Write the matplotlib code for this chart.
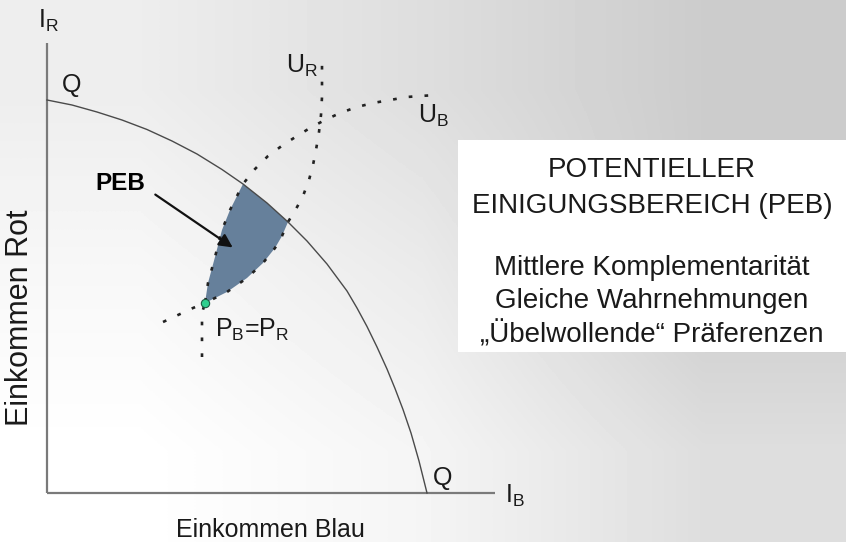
import matplotlib
matplotlib.use("Agg")
import matplotlib.pyplot as plt
from matplotlib.patches import Rectangle, Polygon
import numpy as np

plt.rcParams['font.family'] = ['Liberation Sans', 'DejaVu Sans']
plt.rcParams['mathtext.fontset'] = 'custom'
plt.rcParams['mathtext.rm'] = 'Liberation Sans'

# Einkommen Blau (x) / Einkommen Rot (y)
frontier_x = [0, 25, 50, 75, 100, 125, 150, 175, 196, 220, 241, 260, 280, 300, 310, 320,
              330, 340, 348, 356, 364, 372, 380]
frontier_y = [393, 388, 381, 373, 363.5, 352, 339, 323.5, 309, 290, 271, 252, 229, 202, 185, 166.5,
              146, 124, 104.5, 83.5, 60, 32, 0]

# U_B indifference curve, left to right (P at index 3, frontier at index 8)
ub_x = [116, 131, 146, 158, 161, 168, 175, 183, 196, 208, 221, 236, 250, 263, 276, 293, 310, 326, 343, 360, 373, 390]
ub_y = [171, 178, 185, 190, 210, 236, 263, 283, 309, 324, 337, 348, 357, 365, 372, 380, 386, 390, 393, 396, 397, 398]

# U_R indifference curve, bottom to top (P at index 3, frontier at index 9)
ur_x = [155, 155, 155, 158, 180, 200, 216, 228, 235, 241, 249, 256, 262, 266, 269, 272, 274, 275, 275, 275]
ur_y = [136, 161, 180, 190, 201, 215, 230, 245, 257, 271, 284, 297, 313, 328, 343, 361, 378, 396, 416, 435]

p_point = (158, 190)
ub_p, ub_q = 3, 8
ur_p, ur_q = 3, 9
fr_a, fr_b = 8, 10

box_lines = ["POTENTIELLER", "EINIGUNGSBEREICH (PEB)", "Mittlere Komplementarität",
             "Gleiche Wahrnehmungen", "\u201e\u00dcbelwollende\u201c Präferenzen"]
box_baselines = [316, 280, 218, 185, 151]

fig = plt.figure(figsize=(8.46, 5.42), dpi=100)
ax = fig.add_axes([0, 0, 1, 1])
ax.set_xlim(-47, 799)
ax.set_ylim(-49, 493)

# background gradient
bg = np.array([[0.93, 0.87, 0.80],
               [0.97, 0.92, 0.80],
               [1.00, 0.96, 0.87]])
ax.imshow(bg, cmap='gray', vmin=0, vmax=1, extent=(-47, 799, -49, 493),
          interpolation='bilinear', zorder=0)
ax.set_aspect('auto')
ax.axis('off')

# axes
ax.plot([0, 0], [0, 450], color='#7a7a7a', lw=1.6, solid_capstyle='butt', zorder=2)
ax.plot([0, 448], [0, 0], color='#7a7a7a', lw=1.6, solid_capstyle='butt', zorder=2)

# PEB area
peb = list(zip(ub_x[ub_p:ub_q + 1], ub_y[ub_p:ub_q + 1]))
peb += list(zip(frontier_x[fr_a:fr_b + 1], frontier_y[fr_a:fr_b + 1]))
peb += list(zip(ur_x[ur_p:ur_q + 1], ur_y[ur_p:ur_q + 1]))[::-1]
ax.add_patch(Polygon(peb, closed=True, facecolor='#66809b', edgecolor='none', zorder=3))

# frontier Q
ax.plot(frontier_x, frontier_y, color='#4a4a4a', lw=1.0, zorder=4)

dots = (0, (1.4, 4.6))
ax.plot(ub_x, ub_y, color='#222222', lw=1.9, linestyle=dots, zorder=5)
ax.plot(ur_x, ur_y, color='#222222', lw=1.9, linestyle=dots, zorder=5)

ax.plot([p_point[0]], [p_point[1]], 'o', ms=6, mfc='#2fd08f', mec='#1d5c44', mew=0.8, zorder=6)

ax.annotate('', xy=(188, 244), xytext=(106, 300),
            arrowprops=dict(arrowstyle='-|>', color='#111111', lw=1.6, mutation_scale=20), zorder=6)

tc = '#1a1a1a'
ax.text(-9, 465, r'I$_\mathregular{R}$', fontsize=18, color=tc, ha='left', va='baseline')
ax.text(15, 401, 'Q', fontsize=18, color=tc, ha='left', va='baseline')
ax.text(239, 420, r'U$_\mathregular{R}$', fontsize=18, color=tc, ha='left', va='baseline')
ax.text(371, 370, r'U$_\mathregular{B}$', fontsize=18, color=tc, ha='left', va='baseline')
ax.text(48, 303, 'PEB', fontsize=17.5, fontweight='bold', color='#000000', ha='left', va='baseline')
ax.text(168, 156, r'P$_\mathregular{B}$=P$_\mathregular{R}$', fontsize=18, color=tc, ha='left', va='baseline')
ax.text(386, 8, 'Q', fontsize=18, color=tc, ha='left', va='baseline')
ax.text(458, -10, r'I$_\mathregular{B}$', fontsize=18, color=tc, ha='left', va='baseline')
ax.text(223, -44, 'Einkommen Blau', fontsize=18, color=tc, ha='center', va='baseline')
ax.text(-27, 175, 'Einkommen Rot', fontsize=22, color=tc, ha='center', va='center', rotation=90)

ax.add_patch(Rectangle((411, 141), 388, 212, facecolor='white', edgecolor='none', zorder=3))
for line, base in zip(box_lines, box_baselines):
    ax.text(605, base, line, fontsize=20, color=tc, ha='center', va='baseline', zorder=4)

fig.savefig('out.png', dpi=100)
